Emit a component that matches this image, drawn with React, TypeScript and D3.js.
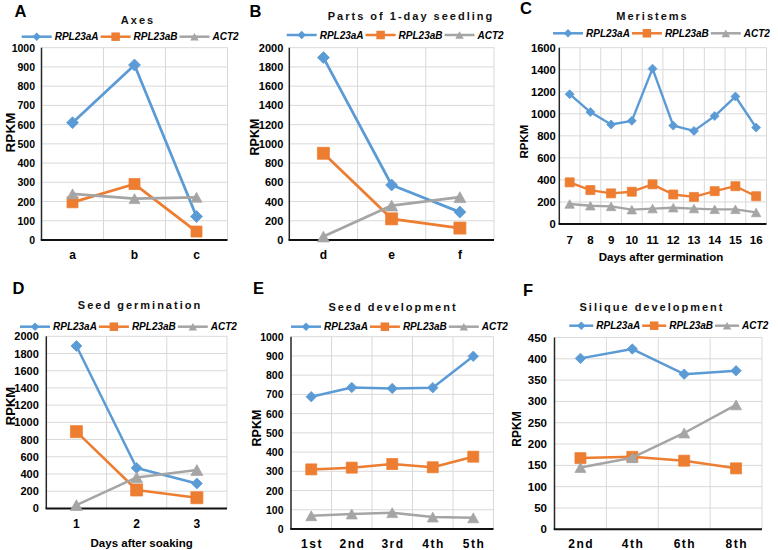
import React from "react";
import * as d3 from "d3";

const FONT = "'Liberation Sans', Arial, Helvetica, sans-serif";
const seriesNames = ["RPL23aA", "RPL23aB", "ACT2"];
const seriesColors = ["#5B9BD5", "#ED7D31", "#A5A5A5"];
const markerKinds = ["diamond", "square", "triangle"];

// Panel A: Axes
const catsA = ["a", "b", "c"];
const A_RPL23aA = [610, 910, 122];
const A_RPL23aB = [196, 291, 44];
const A_ACT2 = [240, 215, 222];

// Panel B: Parts of 1-day seedling
const catsB = ["d", "e", "f"];
const B_RPL23aA = [1897, 572, 290];
const B_RPL23aB = [902, 220, 124];
const B_ACT2 = [36, 358, 446];

// Panel C: Meristems
const catsC = ["7", "8", "9", "10", "11", "12", "13", "14", "15", "16"];
const C_RPL23aA = [1178, 1016, 903, 936, 1410, 893, 845, 980, 1157, 875];
const C_RPL23aB = [378, 308, 278, 293, 360, 268, 246, 298, 343, 252];
const C_ACT2 = [182, 166, 160, 130, 140, 148, 140, 133, 133, 105];

// Panel D: Seed germination
const catsD = ["1", "2", "3"];
const D_RPL23aA = [1888, 470, 290];
const D_RPL23aB = [892, 214, 124];
const D_ACT2 = [38, 360, 446];

// Panel E: Seed development
const catsE = ["1st", "2nd", "3rd", "4th", "5th"];
const E_RPL23aA = [688, 736, 731, 735, 898];
const E_RPL23aB = [310, 319, 338, 321, 376];
const E_ACT2 = [69, 78, 85, 62, 58];

// Panel F: Silique development
const catsF = ["2nd", "4th", "6th", "8th"];
const F_RPL23aA = [401, 423, 364, 372];
const F_RPL23aB = [167, 170, 161, 143];
const F_ACT2 = [145, 168, 226, 292];

// y-axis settings
const yMaxes = [1000, 2000, 1600, 2000, 1000, 450];
const ySteps = [100, 200, 200, 200, 100, 50];
const titles = ["Axes", "Parts of 1-day seedling", "Meristems", "Seed germination", "Seed development", "Silique development"];
const letters = ["A", "B", "C", "D", "E", "F"];
const xTitles = ["", "", "Days after germination", "Days after soaking", "", ""];
const yTitle = "RPKM";

type Layout = {
  lx: number; ly: number;
  tx: number; ty: number;
  legX: number; legY: number; legFont: number; legLine: number;
  left: number; right: number; top: number; bottom: number;
  tickFont: number; tickGap: number;
  catFont: number; catY: number; catSpacing: number;
  xtx: number; xty: number;
  rx: number; ry: number; rFont: number;
  mk: [number, number, number]; lw: number;
};

const layouts: Layout[] = [
  { lx: 14.5, ly: 16.7, tx: 137, ty: 23.5, legX: 21.7, legY: 36.7, legFont: 10, legLine: 30,
    left: 41.5, right: 227.5, top: 47.7, bottom: 240, tickFont: 10.5, tickGap: 6.5,
    catFont: 12, catY: 259, catSpacing: 0, xtx: 0, xty: 0, rx: 10, ry: 132.5, rFont: 13.5, mk: [12, 11, 11], lw: 2.75 },
  { lx: 249.5, ly: 16.7, tx: 410, ty: 19.5, legX: 286.7, legY: 35, legFont: 10, legLine: 30,
    left: 289.3, right: 494, top: 47.7, bottom: 240, tickFont: 11, tickGap: 6,
    catFont: 12, catY: 259, catSpacing: 0, xtx: 0, xty: 0, rx: 255, ry: 137, rFont: 12.5, mk: [12, 12, 12], lw: 2.75 },
  { lx: 520, ly: 13.5, tx: 651.5, ty: 20, legX: 553, legY: 33.3, legFont: 10, legLine: 30,
    left: 559.3, right: 766.5, top: 47.7, bottom: 224, tickFont: 11.2, tickGap: 3.5,
    catFont: 11.5, catY: 244, catSpacing: 0, xtx: 661, xty: 261, rx: 523.5, ry: 141.5, rFont: 11.5, mk: [9, 9, 9.5], lw: 2.4 },
  { lx: 12.5, ly: 294.3, tx: 139, ty: 309.3, legX: 20, legY: 326.7, legFont: 10, legLine: 30,
    left: 46.3, right: 227, top: 336.3, bottom: 508.4, tickFont: 11, tickGap: 7.5,
    catFont: 12, catY: 527.5, catSpacing: 0, xtx: 141.7, xty: 546.5, rx: 10, ry: 406, rFont: 13, mk: [11, 12, 12], lw: 2.5 },
  { lx: 253, ly: 294.3, tx: 392, ty: 310.7, legX: 291, legY: 326.7, legFont: 10, legLine: 30,
    left: 291, right: 493.5, top: 336.7, bottom: 529, tickFont: 10.5, tickGap: 7.5,
    catFont: 12, catY: 547.7, catSpacing: 1.5, xtx: 0, xty: 0, rx: 257, ry: 428, rFont: 12.5, mk: [10.5, 11, 11], lw: 2.5 },
  { lx: 523, ly: 295.7, tx: 651, ty: 310.7, legX: 569.3, legY: 325.7, legFont: 10, legLine: 24,
    left: 554.5, right: 762, top: 337.5, bottom: 529.3, tickFont: 11.5, tickGap: 7.5,
    catFont: 12, catY: 547.7, catSpacing: 1.5, xtx: 0, xty: 0, rx: 517, ry: 429, rFont: 12, mk: [10.5, 11, 11], lw: 2.5 },
];

const panelCats = [catsA, catsB, catsC, catsD, catsE, catsF];
const panelSeries = [
  [A_RPL23aA, A_RPL23aB, A_ACT2],
  [B_RPL23aA, B_RPL23aB, B_ACT2],
  [C_RPL23aA, C_RPL23aB, C_ACT2],
  [D_RPL23aA, D_RPL23aB, D_ACT2],
  [E_RPL23aA, E_RPL23aB, E_ACT2],
  [F_RPL23aA, F_RPL23aB, F_ACT2],
];

// Arial bold width factors (em) of legend labels
const legendEm = [4.39, 4.39, 2.611];

function markerPath(kind: string, size: number): string {
  const r = size / 2;
  if (kind === "diamond") return `M0,${-r}L${r},0L0,${r}L${-r},0Z`;
  if (kind === "square") return `M${-r},${-r}H${r}V${r}H${-r}Z`;
  const h = size * 0.9;
  return `M0,${-h / 2}L${r},${h / 2}L${-r},${h / 2}Z`;
}

function Panel({ idx }: { idx: number }) {
  const L = layouts[idx];
  const cats = panelCats[idx];
  const series = panelSeries[idx];
  const yMax = yMaxes[idx];
  const step = ySteps[idx];
  const x = d3.scaleBand<string>().domain(cats).range([L.left, L.right]).padding(0);
  const y = d3.scaleLinear().domain([0, yMax]).range([L.bottom, L.top]);
  const ticks = d3.range(0, yMax + step / 2, step);
  const cx = (c: string) => (x(c) as number) + x.bandwidth() / 2;
  const line = d3.line<number>().x((_, i) => cx(cats[i])).y((v) => y(v));

  // legend layout
  const legItems: { x: number; w: number }[] = [];
  let lxp = L.legX;
  seriesNames.forEach((_, i) => {
    const tw = legendEm[i] * L.legFont;
    legItems.push({ x: lxp, w: tw });
    lxp += L.legLine + 3 + tw + 2;
  });

  return (
    <g>
      {/* gridlines */}
      {ticks.filter((t) => t > 0).map((t) => (
        <line key={"h" + t} x1={L.left} x2={L.right} y1={y(t)} y2={y(t)} stroke="#D9D9D9" strokeWidth={1} />
      ))}
      {cats.map((c) => (
        <line key={"v" + c} x1={(x(c) as number) + x.bandwidth()} x2={(x(c) as number) + x.bandwidth()} y1={L.top} y2={L.bottom} stroke="#D9D9D9" strokeWidth={1} />
      ))}
      {/* axes */}
      <line x1={L.left} x2={L.left} y1={L.top} y2={L.bottom} stroke="#262626" strokeWidth={1.5} />
      <line x1={L.left - 0.75} x2={L.right} y1={L.bottom} y2={L.bottom} stroke="#111" strokeWidth={2} />
      {/* y title */}
      <text transform={`translate(${L.rx},${L.ry}) rotate(-90)`} textAnchor="middle" dominantBaseline="central"
        fontFamily={FONT} fontWeight="bold" fontSize={L.rFont} fill="#000">{yTitle}</text>
      {/* y tick labels */}
      {ticks.map((t) => (
        <text key={"t" + t} x={L.left - L.tickGap} y={y(t)} textAnchor="end" dominantBaseline="central"
          fontFamily={FONT} fontWeight="bold" fontSize={L.tickFont} fill="#000">{t}</text>
      ))}
      {/* x labels */}
      {cats.map((c) => (
        <text key={"c" + c} x={cx(c) + L.catSpacing / 2} y={L.catY} textAnchor="middle" letterSpacing={L.catSpacing}
          fontFamily={FONT} fontWeight="bold" fontSize={L.catFont} fill="#000">{c}</text>
      ))}
      {xTitles[idx] && (
        <text x={L.xtx} y={L.xty} textAnchor="middle" fontFamily={FONT} fontWeight="bold" fontSize={11.5} fill="#000">{xTitles[idx]}</text>
      )}
      {/* series */}
      {series.map((vals, si) => (
        <g key={"s" + si}>
          <path d={line(vals) || ""} fill="none" stroke={seriesColors[si]} strokeWidth={L.lw} strokeLinejoin="round" />
          {vals.map((v, i) => (
            <path key={i} d={markerPath(markerKinds[si], L.mk[si])} transform={`translate(${cx(cats[i])},${y(v)})`}
              fill={seriesColors[si]} stroke={seriesColors[si]} strokeWidth={0.75} />
          ))}
        </g>
      ))}
      {/* legend */}
      {legItems.map((it, i) => (
        <g key={"l" + i}>
          <line x1={it.x} x2={it.x + L.legLine} y1={L.legY} y2={L.legY} stroke={seriesColors[i]} strokeWidth={2.5} />
          <path d={markerPath(markerKinds[i], 8.5)} transform={`translate(${it.x + L.legLine / 2},${L.legY})`} fill={seriesColors[i]} />
          <text x={it.x + L.legLine + 3} y={L.legY} dominantBaseline="central" fontFamily={FONT} fontWeight="bold"
            fontStyle="italic" fontSize={L.legFont} fill="#000">{seriesNames[i]}</text>
        </g>
      ))}
      {/* title */}
      <text x={L.tx + 1} y={L.ty} textAnchor="middle" letterSpacing={2} fontFamily={FONT} fontWeight="bold" fontSize={11} fill="#111">{titles[idx]}</text>
      {/* panel letter */}
      <text x={L.lx} y={L.ly} fontFamily={FONT} fontWeight="bold" fontSize={16.5} fill="#000">{letters[idx]}</text>
    </g>
  );
}

export default function App() {
  return (
    <svg width={778} height={550} viewBox="0 0 778 550" style={{ position: "absolute", left: 0, top: 0, background: "#fff" }}>
      <rect x={0} y={0} width={778} height={550} fill="#fff" />
      {layouts.map((_, i) => (
        <Panel key={i} idx={i} />
      ))}
    </svg>
  );
}
